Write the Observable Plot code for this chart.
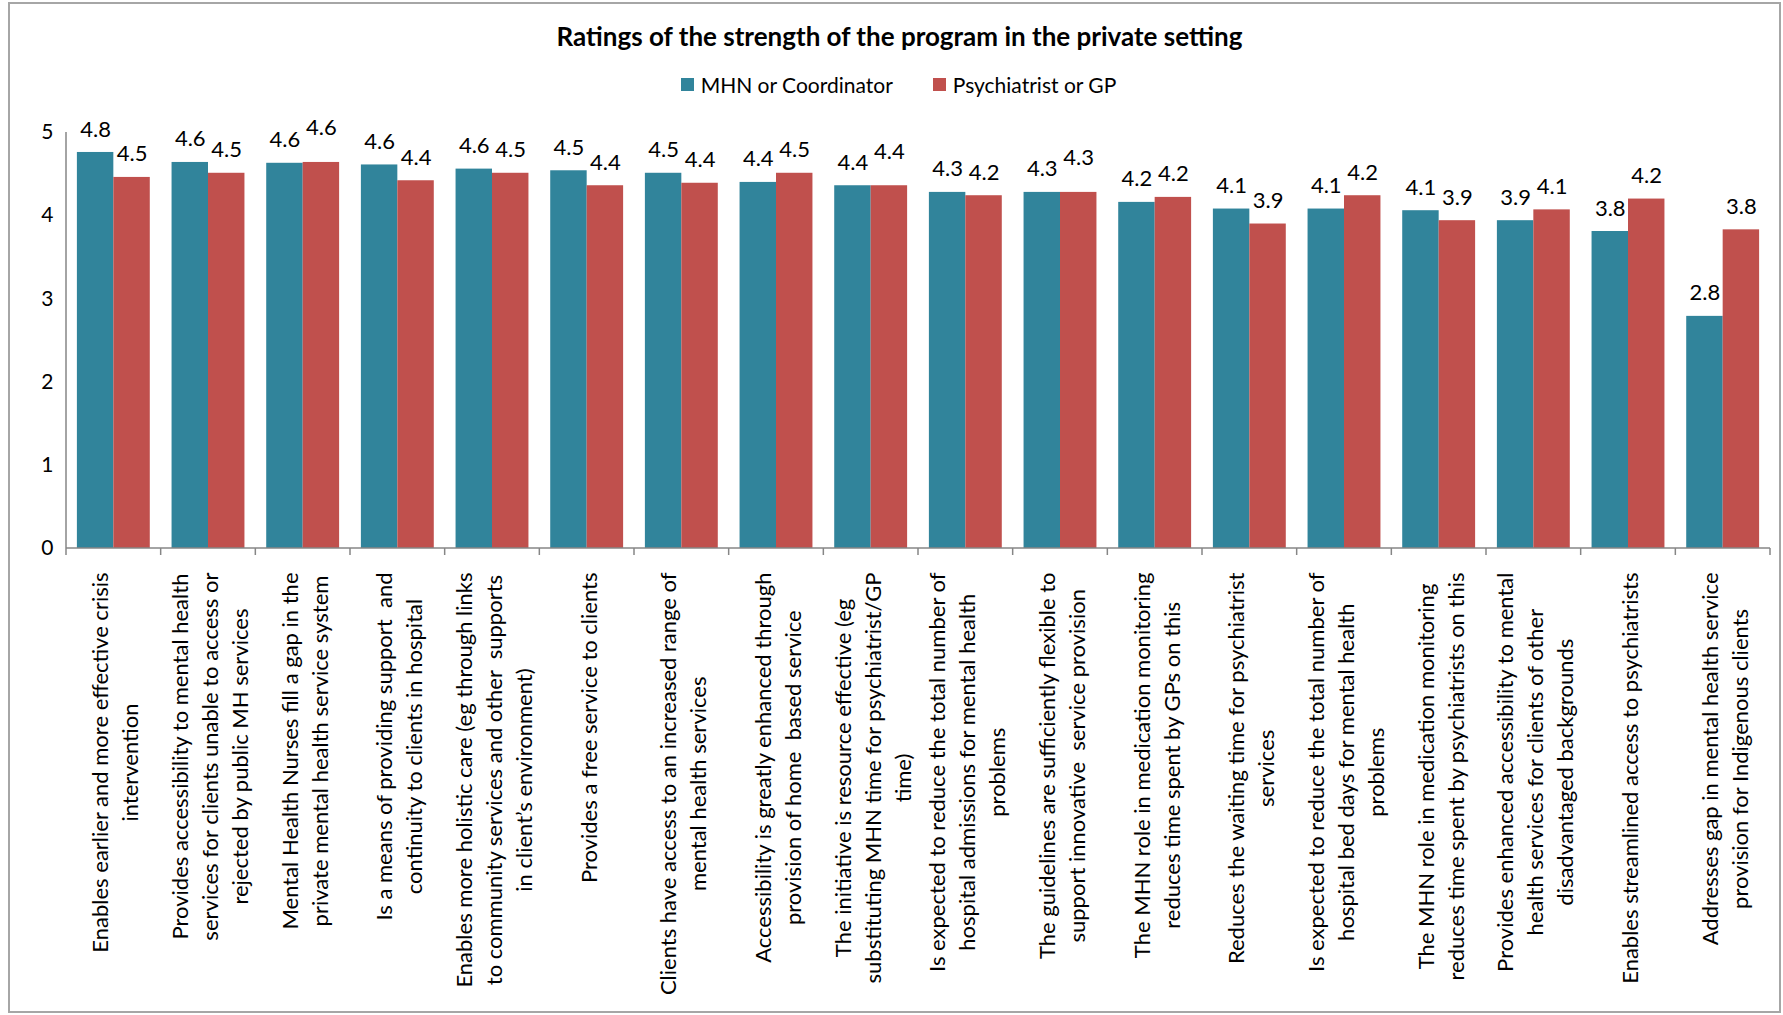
<!DOCTYPE html>
<html><head><meta charset="utf-8">
<script src="https://cdn.jsdelivr.net/npm/d3@7"></script>
<script src="https://cdn.jsdelivr.net/npm/@observablehq/plot@0.6"></script>
<style>
html,body{margin:0;padding:0;background:#fff;}
#frame{position:absolute;left:8px;top:2px;width:1773px;height:1011px;box-sizing:border-box;border:2px solid #a6a6a6;background:#fff;font-family:Lato,sans-serif;color:#000;}
#title{height:64px;line-height:64px;text-align:center;font-weight:bold;font-size:26px;padding-left:10px;box-sizing:border-box;}
#legend{height:32px;display:flex;justify-content:center;align-items:center;font-size:21px;gap:40px;padding-left:8px;box-sizing:border-box;}
.item{display:flex;align-items:center;}
.sw{display:inline-block;width:13px;height:13px;margin-right:7px;}
#chart svg{display:block;}
</style></head>
<body><div id="frame"><div id="title"></div><div id="legend"></div><div id="chart"></div></div>
<script>
const titleText = "Ratings of the strength of the program in the private setting";
const seriesNames = ["MHN or Coordinator", "Psychiatrist or GP"];
const seriesColors = ["#31849b", "#c0504d"];
const categories = [
  "Enables earlier and more effective crisis\nintervention",
  "Provides accessibility to mental health\nservices for clients unable to access or\nrejected by public MH services",
  "Mental Health Nurses fill a gap in the\nprivate mental health service system",
  "Is a means of providing support  and\ncontinuity to clients in hospital",
  "Enables more holistic care (eg through links\nto community services and other  supports\nin client\u2019s environment)",
  "Provides a free service to clients",
  "Clients have access to an increased range of\nmental health services",
  "Accessibility is greatly enhanced through\nprovision of home  based service",
  "The initiative is resource effective (eg\nsubstituting MHN time for psychiatrist/GP\ntime)",
  "Is expected to reduce the total number of\nhospital admissions for mental health\nproblems",
  "The guidelines are sufficiently flexible to\nsupport innovative  service provision",
  "The MHN role in medication monitoring\nreduces time spent by GPs on this",
  "Reduces the waiting time for psychiatrist\nservices",
  "Is expected to reduce the total number of\nhospital bed days for mental health\nproblems",
  "The MHN role in medication monitoring\nreduces time spent by psychiatrists on this",
  "Provides enhanced accessibility to mental\nhealth services for clients of other\ndisadvantaged backgrounds",
  "Enables streamlined access to psychiatrists",
  "Addresses gap in mental health service\nprovision for Indigenous clients"
];
const mhnValues =   [4.76, 4.64, 4.63, 4.61, 4.56, 4.54, 4.51, 4.40, 4.36, 4.28, 4.28, 4.16, 4.08, 4.08, 4.06, 3.94, 3.81, 2.79];
const psychValues = [4.46, 4.51, 4.64, 4.42, 4.51, 4.36, 4.39, 4.51, 4.36, 4.24, 4.28, 4.22, 3.90, 4.24, 3.94, 4.07, 4.20, 3.83];
const yTicks = [0, 1, 2, 3, 4, 5];

const rows = [];
categories.forEach((c, i) => {
  rows.push({category: c, series: seriesNames[0], value: mhnValues[i], lift: false});
  rows.push({category: c, series: seriesNames[1], value: psychValues[i], lift: Math.abs(psychValues[i] - mhnValues[i]) < 0.015});
});

document.getElementById("title").textContent = titleText;
const leg = document.getElementById("legend");
seriesNames.forEach((s, i) => {
  const it = document.createElement("span"); it.className = "item";
  const sw = document.createElement("span"); sw.className = "sw"; sw.style.background = seriesColors[i];
  it.append(sw, document.createTextNode(s)); leg.append(it);
});

const fmt = d => d.value.toFixed(1);
const plot = Plot.plot({
  width: 1769, height: 911,
  marginLeft: 56, marginRight: 9, marginTop: 32, marginBottom: 463,
  style: {fontFamily: "Lato, sans-serif", fontSize: "20px", color: "#000", background: "#fff", overflow: "visible"},
  fx: {domain: categories, paddingInner: 0.23, paddingOuter: 0.115, round: false, axis: null, label: null},
  x: {domain: seriesNames, padding: 0, round: false, axis: null, label: null},
  y: {domain: [0, 5], axis: null, label: null},
  color: {domain: seriesNames, range: seriesColors},
  marks: [
    Plot.axisY({ticks: yTicks, tickFormat: d => String(d), tickSize: 0, tickPadding: 24, fontSize: 21, label: null}),
    Plot.barY(rows, {fx: "category", x: "series", y: "value", fill: "series"}),
    Plot.text(rows.filter(d => !d.lift), {fx: "category", x: "series", y: "value", text: fmt, dy: -23, fontSize: 22, fill: "#000"}),
    Plot.text(rows.filter(d => d.lift), {fx: "category", x: "series", y: "value", text: fmt, dy: -34, fontSize: 22, fill: "#000"}),
    Plot.axisFx({anchor: "bottom", tickSize: 0, tickPadding: 24, tickRotate: -90, fontSize: 22, lineHeight: 1.36, label: null})
  ]
});
document.getElementById("chart").append(plot);

function finish() {
  const fxs = plot.scale("fx"), ys = plot.scale("y");
  const a = fxs.apply(categories[0]), b = fxs.apply(categories[1]);
  const step = b - a;
  const bw = fxs.bandwidth != null ? fxs.bandwidth : step * (1 - 0.23);
  const start = a - (step - bw) / 2;
  const end = start + step * categories.length;
  const y0 = ys.apply(0), yTop = ys.apply(yTicks[yTicks.length - 1]);
  const g = d3.select(plot).append("g").attr("stroke", "#868686").attr("stroke-width", 1.5).attr("fill", "none");
  g.append("line").attr("x1", start).attr("x2", start).attr("y1", yTop).attr("y2", y0);
  g.append("line").attr("x1", start).attr("x2", end).attr("y1", y0).attr("y2", y0);
  for (let i = 0; i <= categories.length; i++) {
    const xx = start + i * step;
    g.append("line").attr("x1", xx).attr("x2", xx).attr("y1", y0).attr("y2", y0 + 7);
  }
  d3.select(plot).selectAll('g[aria-label="fx-axis tick label"] text').each(function () {
    const tsp = this.querySelectorAll("tspan");
    if (!tsp.length) return;
    let m = 0;
    tsp.forEach(t => { m = Math.max(m, t.getComputedTextLength()); });
    this.setAttribute("text-anchor", "middle");
    tsp.forEach(t => t.setAttribute("x", -m / 2));
  });
}
if (document.fonts && document.fonts.ready) document.fonts.ready.then(finish); else finish();
</script>
</body></html>
